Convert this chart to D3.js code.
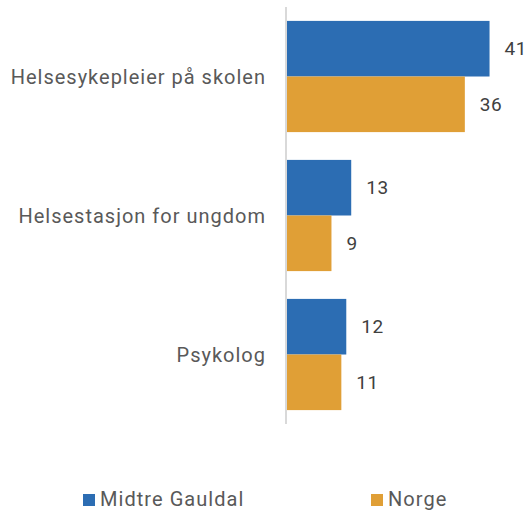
<!DOCTYPE html>
<html>
<head>
<meta charset="utf-8">
<script src="https://cdn.jsdelivr.net/npm/d3@7"></script>
<style>
  html, body { margin: 0; padding: 0; background: #fff; }
  svg { display: block; }
  text { font-family: Roboto, "Noto Sans", sans-serif; }
</style>
</head>
<body>
<svg id="chart" width="531" height="513"></svg>
<script>
// Share of pupils who have used each health service (%)
const categories = ["Helsesykepleier på skolen", "Helsestasjon for ungdom", "Psykolog"];
const seriesNames = ["Midtre Gauldal", "Norge"];
const midtreGauldal = [41, 13, 12];
const norge = [36, 9, 11];
const seriesColors = ["#2c6db3", "#e09f36"];

const rows = categories.map((c, i) => ({ category: c, values: [midtreGauldal[i], norge[i]] }));

const svg = d3.select("#chart");
const axisX = 286;

const y = d3.scaleBand()
  .domain(categories)
  .range([7, 424])
  .paddingInner(0.2)
  .paddingOuter(0.1);

const ySeries = d3.scaleBand()
  .domain(seriesNames)
  .range([0, y.bandwidth()]);

const x = d3.scaleLinear()
  .domain([0, 50])
  .range([287, 287 + 247]);

const color = d3.scaleOrdinal().domain(seriesNames).range(seriesColors);

// bars
const groups = svg.append("g")
  .selectAll("g")
  .data(rows)
  .join("g")
  .attr("transform", d => `translate(0,${y(d.category)})`);

groups.selectAll("rect")
  .data(d => d.values.map((v, j) => ({ series: seriesNames[j], value: v })))
  .join("rect")
  .attr("x", x(0))
  .attr("y", d => ySeries(d.series))
  .attr("width", d => x(d.value) - x(0))
  .attr("height", ySeries.bandwidth())
  .attr("fill", d => color(d.series));

groups.selectAll("text.value")
  .data(d => d.values.map((v, j) => ({ series: seriesNames[j], value: v })))
  .join("text")
  .attr("class", "value")
  .attr("x", d => x(d.value) + 15)
  .attr("y", d => ySeries(d.series) + ySeries.bandwidth() / 2)
  .attr("dy", "0.35em")
  .attr("font-size", 19)
  .attr("letter-spacing", 0.5)
  .attr("fill", "#404040")
  .text(d => d.value);

// category axis line and labels
svg.append("line")
  .attr("x1", axisX).attr("x2", axisX)
  .attr("y1", y.range()[0]).attr("y2", y.range()[1])
  .attr("stroke", "#d9d9d9")
  .attr("stroke-width", 2);

svg.append("g")
  .selectAll("text")
  .data(categories)
  .join("text")
  .attr("x", axisX - 20)
  .attr("y", d => y(d) + y.bandwidth() / 2)
  .attr("dy", "0.35em")
  .attr("text-anchor", "end")
  .attr("font-size", 20)
  .attr("letter-spacing", 1)
  .attr("fill", "#595959")
  .text(d => d);

// legend
const legendX = [83, 371];
const legend = svg.append("g")
  .selectAll("g")
  .data(seriesNames)
  .join("g")
  .attr("transform", (d, i) => `translate(${legendX[i]},494)`);

legend.append("rect")
  .attr("width", 12).attr("height", 12)
  .attr("fill", d => color(d));

legend.append("text")
  .attr("x", 17)
  .attr("y", 12)
  .attr("font-size", 20)
  .attr("letter-spacing", 1.05)
  .attr("fill", "#595959")
  .text(d => d);
</script>
</body>
</html>
